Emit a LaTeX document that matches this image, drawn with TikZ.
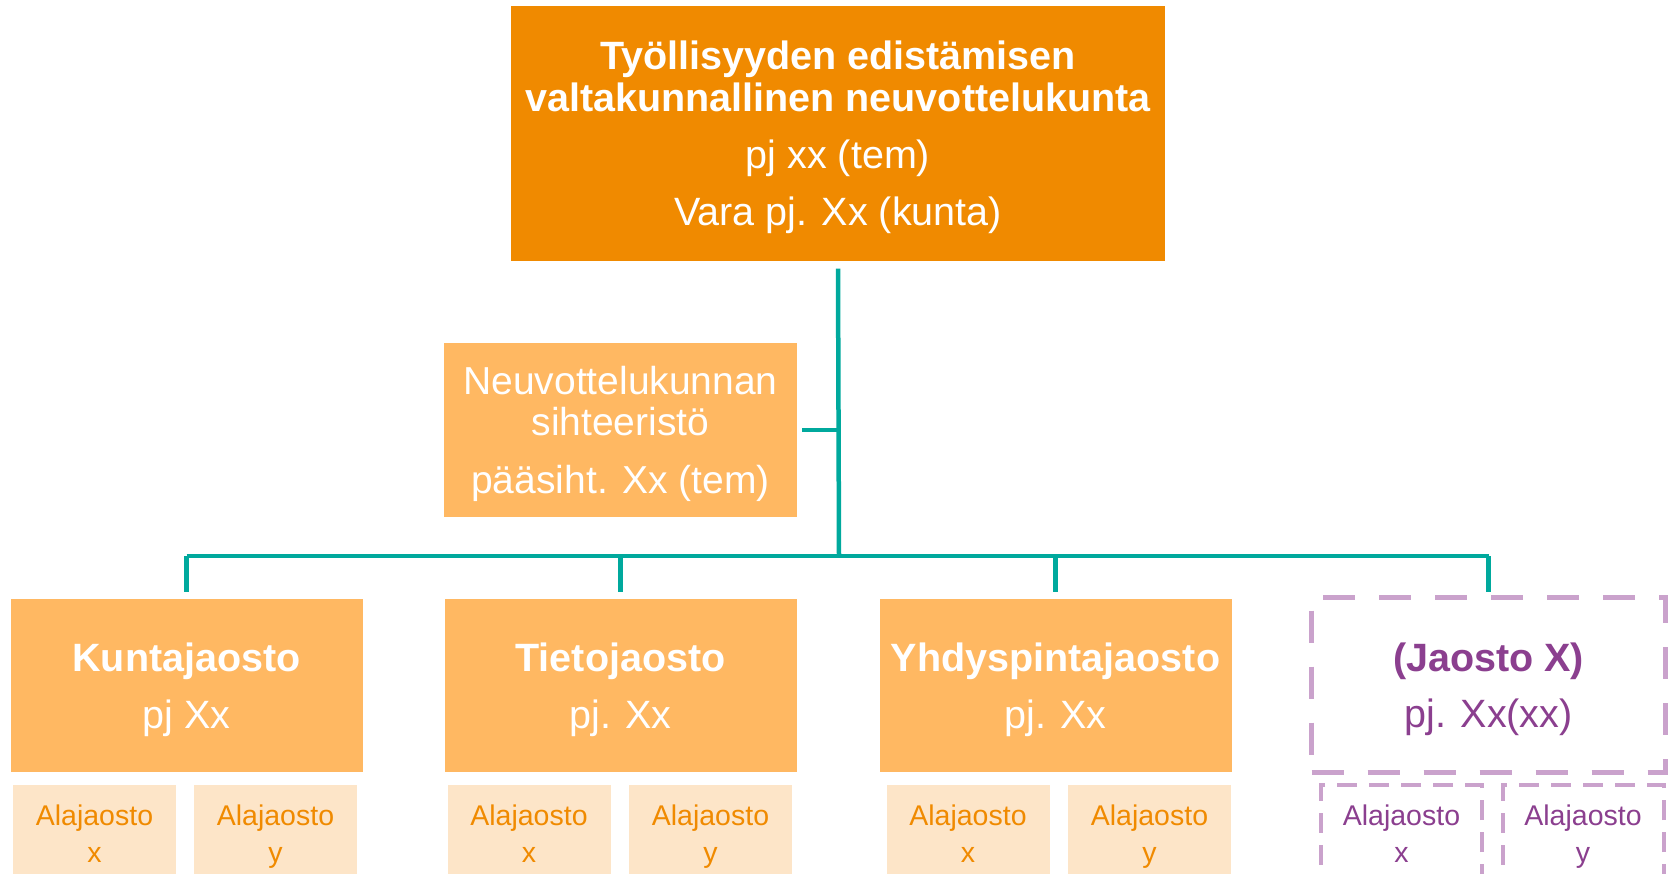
\documentclass[tikz,border=0pt]{standalone}
\usepackage{fontspec}
\setmainfont{Liberation Sans}
\usetikzlibrary{positioning, calc}
\definecolor{topor}{RGB}{240,138,0}
\definecolor{divor}{RGB}{255,184,98}
\definecolor{subor}{RGB}{253,229,200}
\definecolor{linkteal}{RGB}{0,169,157}
\definecolor{jxpurple}{RGB}{139,63,143}
\definecolor{jxline}{RGB}{202,162,204}

\begin{document}
\begin{tikzpicture}[x=1pt, y=-1pt,
  box/.style={rectangle, inner sep=0pt, align=center, text depth=0pt},
  topbox/.style={box, fill=topor, text=white, minimum width=654pt, minimum height=255pt, font=\fontsize{39.5}{42.5}\selectfont},
  secbox/.style={box, fill=divor, text=white, minimum width=353pt, minimum height=174pt, font=\fontsize{39}{41}\selectfont},
  divbox/.style={box, fill=divor, text=white, minimum width=352pt, minimum height=173pt, font=\fontsize{39.5}{44}\selectfont},
  subbox/.style={box, fill=subor, text=topor, minimum width=163pt, minimum height=98pt, font=\fontsize{28.5}{37}\selectfont},
  jxbox/.style={box, fill=white, draw=jxline, line width=5pt, dash pattern=on 32pt off 24pt, text=jxpurple, minimum width=354pt, minimum height=175pt, font=\fontsize{39.5}{44}\selectfont},
  jxsub/.style={box, fill=white, draw=jxline, line width=4pt, dash pattern=on 20pt off 12pt, text=jxpurple, minimum width=161pt, minimum height=98pt, font=\fontsize{28.5}{37}\selectfont},
  conn/.style={draw=linkteal, line width=4.5pt}]
\useasboundingbox (0,0) rectangle (1671,873);
\clip (0,0) rectangle (1671,873);

\node[topbox](tevn) at (838,133) {\bfseries Työllisyyden edistämisen\\\bfseries valtakunnallinen neuvottelukunta\\[14pt]pj xx (tem)\\[14.5pt]Vara pj. Xx (kunta)};
\node[secbox](sihteeristo) at (620.5,430) {Neuvottelukunnan\\sihteeristö\\[16.5pt]pääsiht. Xx (tem)};

\node[divbox](kunta) at (186.5,685.5) {\textbf{Kuntajaosto}\\[12.5pt]pj Xx};
\node[divbox](tieto) at (620.5,685.5) {\textbf{Tietojaosto}\\[12.5pt]pj. Xx};
\node[divbox](yhdys) at (1055.5,685.5) {\textbf{Yhdyspintajaosto}\\[12.5pt]pj. Xx};
\node[jxbox](jaostox) at (1488.5,685) {\textbf{(Jaosto X)}\\[12.5pt]pj. Xx(xx)};

\node[subbox](kuntax) at (94.5,834) {Alajaosto\\x};
\node[subbox](kuntay) at (275.5,834) {Alajaosto\\y};
\node[subbox](tietox) at (529,834) {Alajaosto\\x};
\node[subbox](tietoy) at (710.5,834) {Alajaosto\\y};
\node[subbox](yhdysx) at (968,834) {Alajaosto\\x};
\node[subbox](yhdysy) at (1149.5,834) {Alajaosto\\y};
\node[jxsub](jaostoxx) at (1401.5,834) {Alajaosto\\x};
\node[jxsub](jaostoxy) at (1583,834) {Alajaosto\\y};

% connectors
\coordinate (bus) at (839,556);
\draw[conn] ([yshift=-8pt]tevn.south) -- (bus);
\draw[conn] ([xshift=5pt]sihteeristo.east) -- (sihteeristo.east -| bus);
\draw[conn] (kunta.north |- bus) -- (jaostox.north |- bus);
\draw[conn] (kunta.north |- bus) -- ([yshift=7pt]kunta.north);
\draw[conn] (tieto.north |- bus) -- ([yshift=7pt]tieto.north);
\draw[conn] (yhdys.north |- bus) -- ([yshift=7pt]yhdys.north);
\draw[conn] (jaostox.north |- bus) -- ([yshift=3pt]jaostox.north);
\end{tikzpicture}
\end{document}
